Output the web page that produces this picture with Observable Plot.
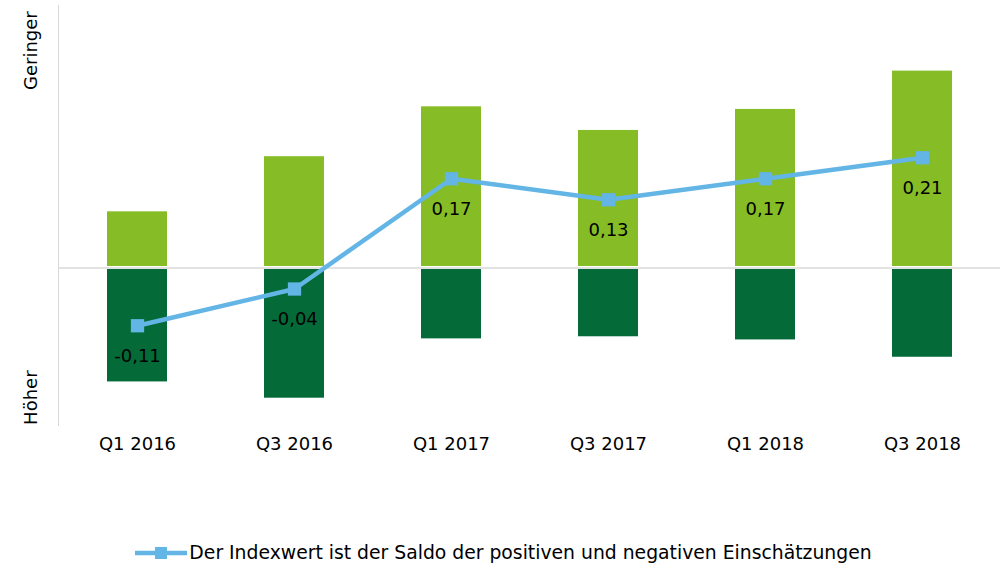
<!DOCTYPE html>
<html>
<head>
<meta charset="utf-8">
<script src="https://cdn.jsdelivr.net/npm/d3@7"></script>
<script src="https://cdn.jsdelivr.net/npm/@observablehq/plot@0.6"></script>
<style>
  html, body { margin: 0; padding: 0; background: #fff; }
  body { width: 1007px; height: 566px; overflow: hidden; font-family: "DejaVu Sans", Verdana, sans-serif; }
  #legend { display: flex; justify-content: center; align-items: center; margin-top: 72px; font-size: 18.8px; color: #000; padding-left: 0px; }
  #legend svg { margin-right: 2px; }
</style>
</head>
<body>
<div id="chart"></div>
<div id="legend"></div>
<script>
const quarters = ["Q1 2016", "Q3 2016", "Q1 2017", "Q3 2017", "Q1 2018", "Q3 2018"];
const positiveShare = [0.107, 0.212, 0.307, 0.262, 0.302, 0.375];
const negativeShare = [-0.217, -0.248, -0.135, -0.131, -0.137, -0.170];
const indexValues = [-0.11, -0.04, 0.17, 0.13, 0.17, 0.21];
const yAxisLabels = [{value: 0.414, label: "Geringer"}, {value: -0.247, label: "Höher"}];
const legendLabel = "Der Indexwert ist der Saldo der positiven und negativen Einschätzungen";

const lightGreen = "#86bc25";
const darkGreen = "#046a38";
const lineBlue = "#62b5e5";

const rows = quarters.map((q, i) => ({q, pos: positiveShare[i], neg: negativeShare[i], idx: indexValues[i]}));
const fmt = v => v.toFixed(2).replace(".", ",");

const chart = Plot.plot({
  width: 1007,
  height: 470,
  marginLeft: 58,
  marginRight: 7,
  marginTop: 5,
  marginBottom: 45,
  style: {fontFamily: "DejaVu Sans, Verdana, sans-serif", background: "#fff", color: "#000"},
  x: {domain: quarters, paddingInner: 0.618, paddingOuter: 0.309, label: null},
  y: {domain: [-0.3, 0.5], label: null},
  marks: [
    Plot.axisX({tickSize: 0, tickPadding: 12, fontSize: 18, label: null}),
    Plot.axisY(yAxisLabels.map(d => d.value), {
      tickSize: 0, tickPadding: 0, fontSize: 18, label: null, rotate: -90, dx: -27,
      textAnchor: "middle",
      tickFormat: v => (yAxisLabels.find(d => d.value === v) || {}).label
    }),
    Plot.frame({anchor: "left", stroke: "#d9d9d9"}),
    Plot.ruleY([0], {stroke: "#d9d9d9", strokeWidth: 1.5}),
    Plot.barY(rows, {x: "q", y1: 0, y2: "pos", fill: lightGreen, insetBottom: 1.5}),
    Plot.barY(rows, {x: "q", y1: 0, y2: "neg", fill: darkGreen, insetTop: 1.5}),
    Plot.line(rows, {x: "q", y: "idx", stroke: lineBlue, strokeWidth: 4.5}),
    Plot.dot(rows, {x: "q", y: "idx", symbol: "square", r: 7.5, fill: lineBlue, stroke: "none"}),
    Plot.text(rows, {x: "q", y: "idx", text: d => fmt(d.idx), dy: 30, fontSize: 18, fill: "#000"})
  ]
});
document.getElementById("chart").appendChild(chart);

const legend = document.getElementById("legend");
legend.innerHTML = `<svg width="52" height="14"><line x1="0" y1="7" x2="52" y2="7" stroke="${lineBlue}" stroke-width="4.5"/><rect x="20" y="1" width="12" height="12" fill="${lineBlue}"/></svg><span>${legendLabel}</span>`;
</script>
</body>
</html>
